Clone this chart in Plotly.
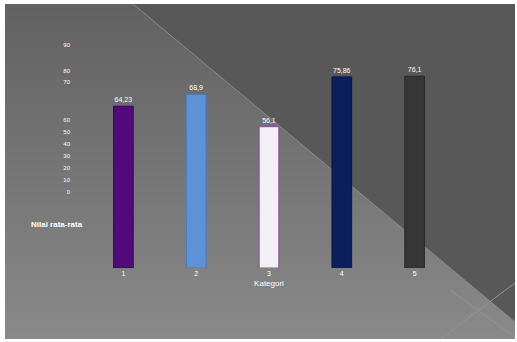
import plotly.graph_objects as go

categories = ["1", "2", "3", "4", "5"]
values = [64.23, 68.9, 56.1, 75.86, 76.1]
value_labels = ["64,23", "68,9", "56,1", "75,86", "76,1"]
bar_colors = ["#520a7a", "#5b92d8", "#f2eff5", "#0b1f5e", "#363636"]
bar_lines = ["#3a0558", "#4a7cc0", "#8a4a9a", "#08164a", "#2a2a2a"]
tick_text = ["90", "80", "70", "60", "50", "40", "30", "20", "10", "0"]
tick_vals = [88.5, 78.2, 73.8, 58.7, 54.0, 49.2, 44.4, 39.7, 34.9, 30.2]

W, H = 517, 342
L, R, T, B = 87, 66, 40, 74
PW, PH = W - L - R, H - T - B


def px(x):
    return (x - L) / PW


def py(y):
    return (H - B - y) / PH


fig = go.Figure()
fig.add_trace(go.Bar(
    x=categories, y=values,
    marker=dict(color=bar_colors, line=dict(color=bar_lines, width=1)),
    width=0.27,
    text=value_labels, textposition="outside",
    textfont=dict(color="white", size=7, family="Arial"),
    cliponaxis=False,
))

shapes = []
# vertical gradient background built from overlapping bands
top, bot, nb = 4, 339, 40
c0, c1 = 0x62, 0x8a
for i in range(nb):
    y0 = top + (bot - top) * i / nb
    c = int(c0 + (c1 - c0) * (i + 0.5) / nb)
    shapes.append(dict(type="rect", xref="paper", yref="paper", x0=px(5), x1=px(515),
                       y0=py(y0), y1=py(bot), fillcolor=f"rgb({c},{c},{c})",
                       line=dict(width=0), layer="below"))
shapes += [
    dict(type="path", xref="paper", yref="paper",
         path=f"M {px(133)} {py(4)} L {px(515)} {py(4)} L {px(515)} {py(322)} Z",
         fillcolor="#585858", line=dict(width=0), layer="below"),
    dict(type="line", xref="paper", yref="paper", x0=px(133), y0=py(4), x1=px(515), y1=py(322),
         line=dict(color="#8a8a8a", width=1), layer="below"),
    dict(type="line", xref="paper", yref="paper", x0=px(440), y0=py(339), x1=px(515), y1=py(283),
         line=dict(color="#949494", width=1), layer="below"),
    dict(type="line", xref="paper", yref="paper", x0=px(450), y0=py(290), x1=px(515), y1=py(337),
         line=dict(color="#949494", width=1), layer="below"),
]

fig.update_layout(
    width=W, height=H,
    margin=dict(l=L, r=R, t=T, b=B),
    paper_bgcolor="white",
    plot_bgcolor="rgba(0,0,0,0)",
    showlegend=False,
    shapes=shapes,
    xaxis=dict(type="category", range=[-0.5, 4.5], showgrid=False, zeroline=False,
               showline=False, ticks="", tickfont=dict(color="white", size=7, family="Arial"),
               title=dict(text="Kategori", font=dict(color="white", size=8, family="Arial"), standoff=4)),
    yaxis=dict(range=[0, 90.5], showgrid=False, zeroline=False, showline=False,
               tickmode="array", tickvals=tick_vals, ticktext=tick_text, ticks="",
               ticklabelstandoff=16,
               tickfont=dict(color="white", size=6, family="Arial")),
    annotations=[
        dict(text="<b>Nilai rata-rata</b>", xref="paper", yref="paper", x=px(57), y=py(224),
             xanchor="center", yanchor="middle",
             showarrow=False, font=dict(color="white", size=8, family="Arial")),
    ],
    bargap=0.7,
)

fig.write_html("out.html")
